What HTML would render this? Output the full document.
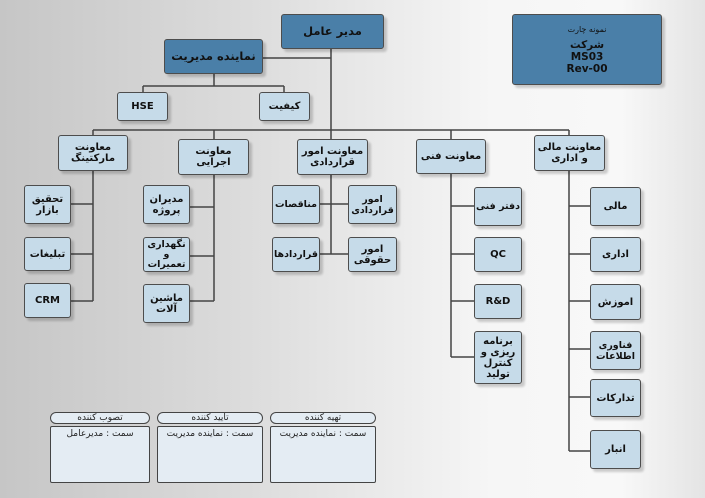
<!DOCTYPE html>
<html><head><meta charset="utf-8"><style>
*{margin:0;padding:0;box-sizing:border-box}
body{width:705px;height:498px;overflow:hidden;position:relative;font-family:"DejaVu Sans","Liberation Sans","Noto Sans CJK SC",sans-serif;
background:linear-gradient(90deg,#c6c6c6 0%,#dcdcdc 35%,#f6f6f6 70%,#f8f8f8 88%,#e4e4e4 100%)}
.b{position:absolute;background:#c6dbe9;border:1.5px solid #4d4d4d;border-radius:3px;display:flex;align-items:center;justify-content:center;text-align:center;font-weight:bold;font-size:10px;line-height:11px;color:#111;direction:rtl;box-shadow:3px 3px 2px rgba(0,0,0,.18);white-space:nowrap}
.d{background:#4a7fa8;font-size:11.5px}
svg{position:absolute;left:0;top:0}
.h{position:absolute;border:1.5px solid #444;border-radius:7px;background:#e4ecf3;font-size:9px;text-align:center;line-height:10px;direction:rtl;color:#222}
.c{position:absolute;border:1.5px solid #444;border-radius:2px;background:#e4ecf3;font-size:9px;text-align:center;direction:rtl;color:#222;padding-top:2px}
</style></head><body>
<svg width="705" height="498" stroke="#444" stroke-width="1.5" fill="none">
<path d="M263 58H331M331 49V139M93 130H569M93 130V135M214 130V139M451 130V139M569 130V135M214 74V86M143 86V92M284 86V92M143 86H284"/>
<path d="M93 171V301M71 204H93M71 254H93M71 301H93"/>
<path d="M214 175V301M190 207H214M190 256H214M190 301H214"/>
<path d="M331 175V254M320 204H348M320 254H348"/>
<path d="M451 174V357M474 206H451M474 254H451M474 301H451M474 357H451"/>
<path d="M569 171V451M590 206H569M590 254H569M590 301H569M590 349H569M590 397H569M590 451H569"/>
</svg>
<div class="b d" style="left:281px;top:14px;width:103px;height:35px">مدیر عامل</div>
<div class="b d" style="left:164px;top:39px;width:99px;height:35px">نماینده مدیریت</div>
<div class="b d" style="left:512px;top:14px;width:150px;height:71px;flex-direction:column;font-size:10.5px;line-height:12px"><span style="font-weight:normal;font-size:8px;margin-bottom:3px">نمونه چارت</span><span>شرکت</span><span>MS03</span><span>Rev-00</span></div>
<div class="b" style="left:117px;top:92px;width:51px;height:29px">HSE</div>
<div class="b" style="left:259px;top:92px;width:51px;height:29px">کیفیت</div>
<div class="b" style="left:58px;top:135px;width:70px;height:36px">معاونت<br>مارکتینگ</div>
<div class="b" style="left:178px;top:139px;width:71px;height:36px">معاونت<br>اجرایی</div>
<div class="b" style="left:297px;top:139px;width:71px;height:36px">معاونت امور<br>قراردادی</div>
<div class="b" style="left:416px;top:139px;width:70px;height:35px">معاونت فنی</div>
<div class="b" style="left:534px;top:135px;width:71px;height:36px">معاونت مالی<br>و اداری</div>
<div class="b" style="left:24px;top:185px;width:47px;height:39px">تحقیق<br>بازار</div>
<div class="b" style="left:24px;top:237px;width:47px;height:34px">تبلیغات</div>
<div class="b" style="left:24px;top:283px;width:47px;height:35px">CRM</div>
<div class="b" style="left:143px;top:185px;width:47px;height:39px">مدیران<br>پروژه</div>
<div class="b" style="left:143px;top:237px;width:47px;height:35px;font-size:9.5px;line-height:10px">نگهداری<br>و<br>تعمیرات</div>
<div class="b" style="left:143px;top:284px;width:47px;height:39px">ماشین<br>آلات</div>
<div class="b" style="left:272px;top:185px;width:48px;height:39px;font-size:9.5px">مناقصات</div>
<div class="b" style="left:272px;top:237px;width:48px;height:35px;font-size:9.5px">قراردادها</div>
<div class="b" style="left:348px;top:185px;width:49px;height:39px;font-size:9.5px">امور<br>قراردادی</div>
<div class="b" style="left:348px;top:237px;width:49px;height:35px">امور<br>حقوقی</div>
<div class="b" style="left:474px;top:187px;width:48px;height:39px;font-size:9.5px">دفتر فنی</div>
<div class="b" style="left:474px;top:237px;width:48px;height:35px">QC</div>
<div class="b" style="left:474px;top:284px;width:48px;height:35px">R&amp;D</div>
<div class="b" style="left:474px;top:331px;width:48px;height:53px">برنامه<br>ریزی و<br>کنترل<br>تولید</div>
<div class="b" style="left:590px;top:187px;width:51px;height:39px">مالی</div>
<div class="b" style="left:590px;top:237px;width:51px;height:35px">اداری</div>
<div class="b" style="left:590px;top:284px;width:51px;height:36px">اموزش</div>
<div class="b" style="left:590px;top:331px;width:51px;height:39px;font-size:9.5px">فناوری<br>اطلاعات</div>
<div class="b" style="left:590px;top:379px;width:51px;height:38px">تدارکات</div>
<div class="b" style="left:590px;top:430px;width:51px;height:39px">انبار</div>
<div class="h" style="left:50px;top:412px;width:100px;height:12px">تصوب کننده</div>
<div class="h" style="left:157px;top:412px;width:106px;height:12px">تایید کننده</div>
<div class="h" style="left:270px;top:412px;width:106px;height:12px">تهیه کننده</div>
<div class="c" style="left:50px;top:426px;width:100px;height:57px">سمت : مدیرعامل</div>
<div class="c" style="left:157px;top:426px;width:106px;height:57px">سمت : نماینده مدیریت</div>
<div class="c" style="left:270px;top:426px;width:106px;height:57px">سمت : نماینده مدیریت</div>
</body></html>
